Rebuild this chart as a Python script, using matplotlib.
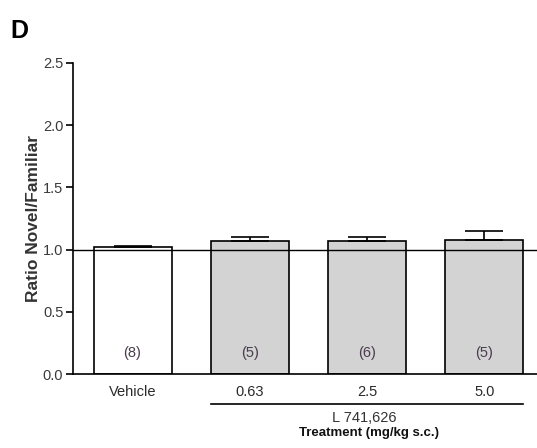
import matplotlib
matplotlib.use("Agg")
import matplotlib.pyplot as plt
import matplotlib.transforms as mtransforms

plt.rcParams["font.family"] = ["Liberation Sans", "DejaVu Sans"]

groups = ["Vehicle", "0.63", "2.5", "5.0"]
ratio = [1.02, 1.07, 1.07, 1.08]
sem = [0.01, 0.035, 0.03, 0.07]
n_animals = ["(8)", "(5)", "(6)", "(5)"]
fills = ["white", "#d3d3d3", "#d3d3d3", "#d3d3d3"]
yticks = [0.0, 0.5, 1.0, 1.5, 2.0, 2.5]
drug = "L 741,626"

fig = plt.figure(figsize=(5.37, 4.48), dpi=100)
ax = fig.add_axes([73 / 537, 74 / 448, 464 / 537, 311 / 448])

x = list(range(len(groups)))
width = 0.665
ax.bar(x, ratio, width=width, color=fills, edgecolor="black", linewidth=1.2, zorder=2)
ax.axhline(1.0, color="black", lw=1.0, zorder=3)
ax.errorbar(x, ratio, yerr=[[0] * len(sem), sem], fmt="none", ecolor="black",
            elinewidth=1.2, capsize=14, capthick=1.2, zorder=3)

for xi, lab in zip(x, n_animals):
    ax.text(xi, 0.17, lab, ha="center", va="center", fontsize=10.5, color="#4a3c4c", zorder=4)

ax.set_xlim(-0.508, 3.45)
ax.set_ylim(0, 2.5)
ax.set_yticks(yticks)
ax.set_yticklabels([f"{t:.1f}" for t in yticks])
ax.set_xticks(x)
ax.set_xticklabels(groups)
ax.tick_params(axis="x", length=0, pad=8, labelsize=10.5, labelcolor="#2a2a2a")
ax.tick_params(axis="y", length=5, width=1.2, pad=2, labelsize=10.5, labelcolor="#3a3a3a")
for s in ["top", "right"]:
    ax.spines[s].set_visible(False)
for s in ["left", "bottom"]:
    ax.spines[s].set_linewidth(1.2)

ax.set_ylabel("Ratio Novel/Familiar", fontsize=12.5, fontweight="bold", color="#333333", labelpad=1)

trans = mtransforms.blended_transform_factory(ax.transData, ax.transAxes)
ax.plot([x[1] - width / 2, x[-1] + width / 2], [-0.096, -0.096], color="black", lw=1.2,
        transform=trans, clip_on=False)
ax.text(1.98, -0.14, drug, transform=trans, ha="center", va="center", fontsize=10.5, color="#333333")
ax.text(2.02, -0.19, "Treatment (mg/kg s.c.)", transform=trans, ha="center", va="center",
        fontsize=9.5, fontweight="bold", color="#111111")

fig.text(10 / 537, 1 - 31 / 448, "D", fontsize=18, fontweight="bold", ha="left", va="center")

fig.savefig("out.png", dpi=100)
